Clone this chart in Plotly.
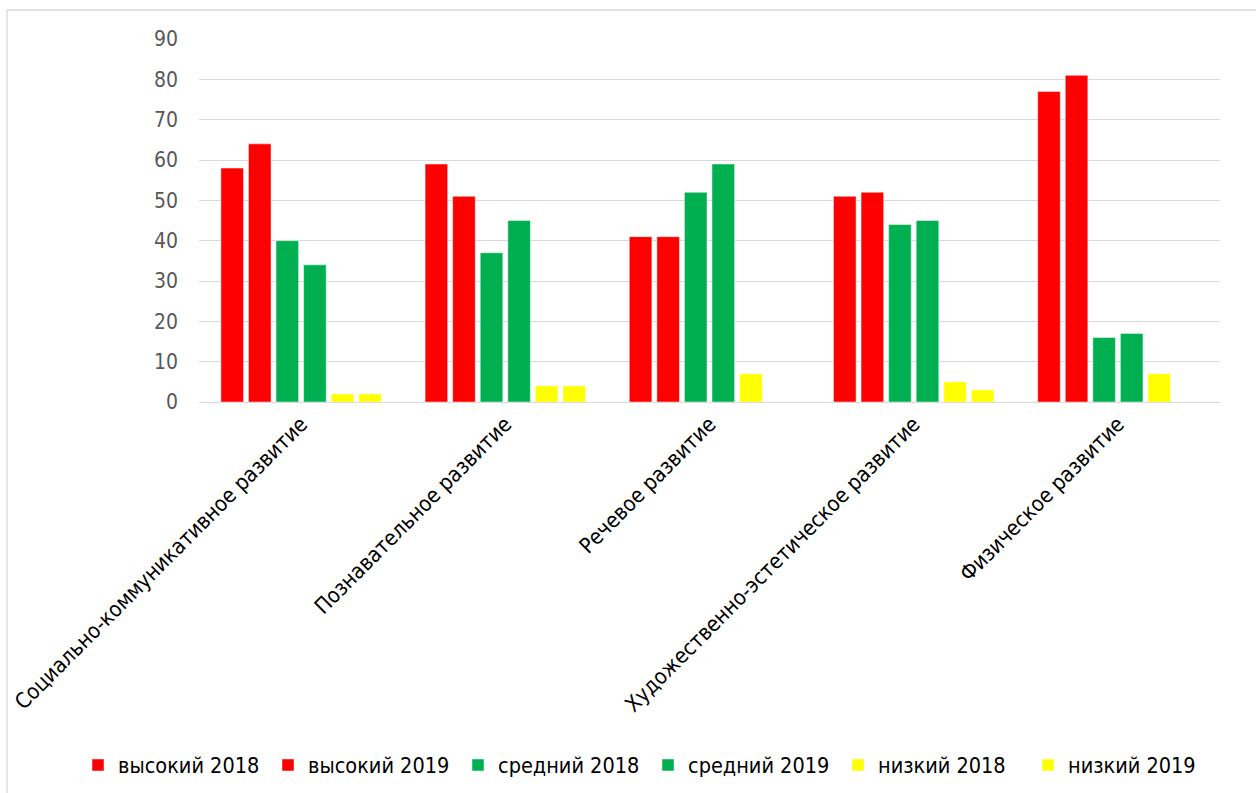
import plotly.graph_objects as go

categories = ["Социально-коммуникативное развитие", "Познавательное развитие",
              "Речевое развитие", "Художественно-эстетическое развитие", "Физическое развитие"]
series_names = ["высокий 2018", "высокий 2019", "средний 2018", "средний 2019", "низкий 2018", "низкий 2019"]
high_2018 = [58, 59, 41, 51, 77]
high_2019 = [64, 51, 41, 52, 81]
mid_2018 = [40, 37, 52, 44, 16]
mid_2019 = [34, 45, 59, 45, 17]
low_2018 = [2, 4, 7, 5, 7]
low_2019 = [2, 4, None, 3, None]
colors = ["#FF0000", "#FF0000", "#00B050", "#00B050", "#FFFF00", "#FFFF00"]

fig = go.Figure()
for name, vals, col in zip(series_names, [high_2018, high_2019, mid_2018, mid_2019, low_2018, low_2019], colors):
    fig.add_trace(go.Bar(x=categories, y=vals, name=name,
                         marker=dict(color=col, line=dict(color="rgba(255,255,255,0.6)", width=0.8))))

L, R, T, B = 199, 36, 39, 391
PW, PH = 1256 - L - R, 793 - T - B

font_family = "Liberation Sans Narrow, DejaVu Sans Condensed, Liberation Sans, sans-serif"
fig.update_layout(
    width=1256, height=793,
    barmode="group", bargap=0.19, bargroupgap=0.18,
    plot_bgcolor="white", paper_bgcolor="white",
    margin=dict(l=L, r=R, t=T, b=B, autoexpand=False),
    font=dict(family=font_family, size=21, color="#000000"),
    showlegend=True,
    legend=dict(orientation="h", x=(78 - L) / PW, xanchor="left",
                y=-(765 - (T + PH)) / PH, yanchor="middle",
                font=dict(size=21.5, color="#000000"), itemwidth=30, traceorder="normal",
                entrywidth=145, entrywidthmode="pixels"),
    yaxis=dict(range=[0, 90], dtick=10, showgrid=True, gridcolor="#D9D9D9", gridwidth=1.3,
               zeroline=False, showline=False, ticks="",
               tickfont=dict(size=21, color="#595959"), ticklabelstandoff=20),
    xaxis=dict(tickangle=-45, showline=True, linecolor="#D9D9D9", linewidth=1.3, ticks="",
               tickfont=dict(size=21.5, color="#000000")),
    shapes=[dict(type="rect", xref="paper", yref="paper",
                 x0=(7 - L) / PW, x1=1.5, y0=-2.0, y1=1 + (T - 10) / PH,
                 line=dict(color="#D9D9D9", width=1.3), fillcolor="rgba(0,0,0,0)", layer="below")],
)
fig.write_html("out.html", config={"displayModeBar": False},
               post_script="document.body.style.margin='0';document.body.style.overflow='hidden';")
